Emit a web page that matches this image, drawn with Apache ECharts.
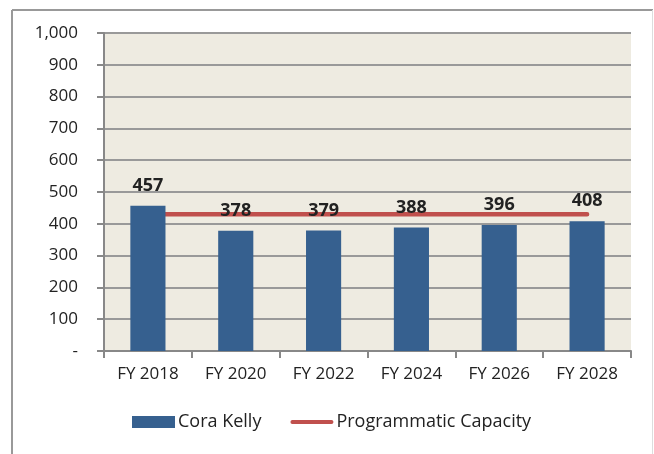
<!DOCTYPE html>
<html>
<head>
<meta charset="utf-8">
<script src="https://cdn.jsdelivr.net/npm/echarts@6/dist/echarts.min.js"></script>
<style>
  html, body { margin: 0; padding: 0; background: #fff; }
  #chart { width: 654px; height: 454px; }
</style>
</head>
<body>
<div id="chart"></div>
<script>
// values
const years = ['FY 2018', 'FY 2020', 'FY 2022', 'FY 2024', 'FY 2026', 'FY 2028']
const coraKelly = [457, 378, 379, 388, 396, 408]
const capacity = [430, 430, 430, 430, 430, 430]

const font = 'Open Sans'
const myChart = echarts.init(document.getElementById('chart'))
myChart.setOption({
  animation: false,
  textStyle: { fontFamily: font },
  graphic: [
    // outer frame
    { type: 'line', shape: { x1: 12, y1: 10, x2: 12, y2: 454 }, style: { stroke: '#999', lineWidth: 2 } },
    { type: 'line', shape: { x1: 12, y1: 10, x2: 653, y2: 10 }, style: { stroke: '#999', lineWidth: 2 } },
    { type: 'line', shape: { x1: 652.5, y1: 10, x2: 652.5, y2: 454 }, style: { stroke: '#ddd', lineWidth: 1 } }
  ],
  grid: {
    left: 104,
    right: 23,
    top: 33,
    bottom: 103,
    show: true,
    backgroundColor: '#EEEBE1',
    borderWidth: 0
  },
  legend: {
    bottom: 18,
    left: 127,
    itemWidth: 43,
    itemHeight: 12,
    itemGap: 29,
    textStyle: { fontFamily: font, fontSize: 18, color: '#222', padding: [0, 0, 0, -2] },
    data: [
      { name: 'Cora Kelly', icon: 'rect' },
      { name: 'Programmatic Capacity', icon: 'path://M2,0H43A2,2 0 0 1 43,4H2A2,2 0 0 1 2,0Z' }
    ]
  },
  xAxis: {
    type: 'category',
    data: years,
    axisLine: { lineStyle: { color: '#888', width: 2 } },
    axisTick: { show: true, length: 7, lineStyle: { color: '#888', width: 2 } },
    axisLabel: { color: '#222', fontSize: 17, margin: 15 }
  },
  yAxis: {
    type: 'value',
    min: 0,
    max: 1000,
    interval: 100,
    axisLine: { show: true, lineStyle: { color: '#888', width: 2 } },
    axisTick: { show: true, length: 7, lineStyle: { color: '#888', width: 2 } },
    splitLine: { lineStyle: { color: '#999', width: 2 } },
    axisLabel: {
      color: '#222',
      fontSize: 17,
      margin: 26,
      formatter: function (v) {
        return v === 0 ? '-' : v.toLocaleString('en-US')
      }
    }
  },
  series: [
    {
      name: 'Cora Kelly',
      type: 'bar',
      data: coraKelly,
      barWidth: '40%',
      itemStyle: { color: '#36608F' },
      label: {
        show: true,
        position: 'top',
        distance: 11,
        fontSize: 18,
        fontWeight: 'bold',
        color: '#222'
      }
    },
    {
      name: 'Programmatic Capacity',
      type: 'line',
      data: capacity,
      symbol: 'none',
      lineStyle: { color: '#C0504D', width: 4.5, cap: 'round' },
      itemStyle: { color: '#C0504D' },
      z: 1
    }
  ]
})
window.addEventListener('resize', function () {
  myChart.resize()
})
</script>
</body>
</html>
